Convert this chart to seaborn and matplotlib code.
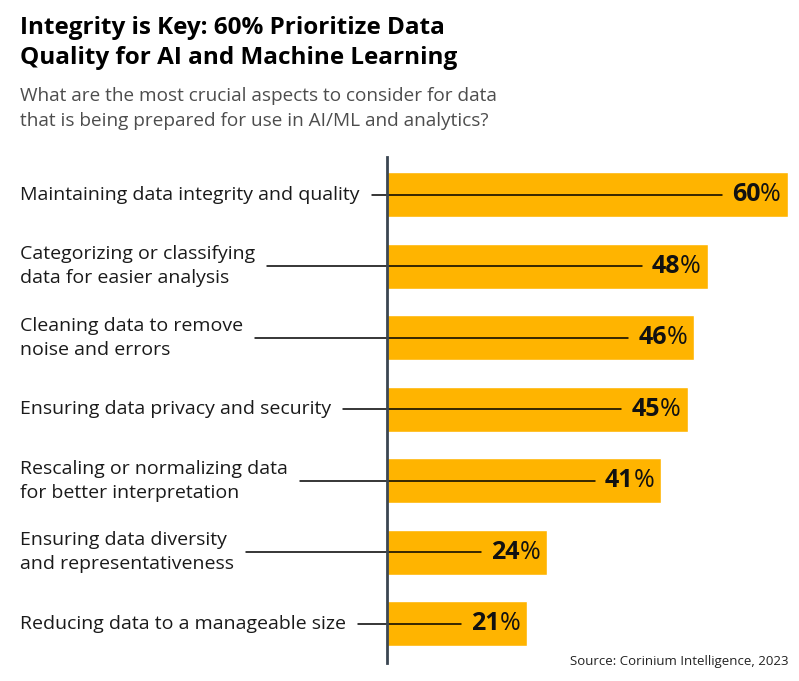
import pandas as pd
import matplotlib.pyplot as plt
import seaborn as sns
from matplotlib.transforms import blended_transform_factory

aspects = [
    "Maintaining data integrity and quality",
    "Categorizing or classifying\ndata for easier analysis",
    "Cleaning data to remove\nnoise and errors",
    "Ensuring data privacy and security",
    "Rescaling or normalizing data\nfor better interpretation",
    "Ensuring data diversity\nand representativeness",
    "Reducing data to a manageable size",
]
shares = [60, 48, 46, 45, 41, 24, 21]

df = pd.DataFrame({'aspect': aspects, 'share': shares})

sns.set_theme(style='white')
plt.rcParams['font.family'] = ['Open Sans', 'DejaVu Sans']

W, H = 799, 681
fig = plt.figure(figsize=(W / 100, H / 100), dpi=100)
ax = fig.add_axes([387 / W, 1 - 663 / H, 401 / W, 506 / H])

sns.barplot(data=df, y='aspect', x='share', color='#FFB400', saturation=1,
            width=0.63, ax=ax, zorder=1)
ax.set_xlim(0, 60)
ax.set_ylim(6.55, -0.53)
ax.set_xticks([])
ax.set_yticks([])
ax.set_xlabel('')
ax.set_ylabel('')
for s in ['top', 'right', 'bottom']:
    ax.spines[s].set_visible(False)
ax.spines['left'].set_color('#3B4652')
ax.spines['left'].set_linewidth(2)
ax.spines['left'].set_zorder(5)

trans = blended_transform_factory(fig.transFigure, ax.transData)
labels, nums = [], []
for i, (a, v) in enumerate(zip(aspects, shares)):
    t = ax.text(20 / W, i, a, transform=trans, ha='left', va='center',
                fontsize=14, color='#1a1a1a', linespacing=1.42)
    labels.append(t)
    pct = ax.annotate('%', xy=(v, i), xytext=(-7, 0), textcoords='offset pixels',
                      ha='right', va='center', fontsize=18, color='#111111')
    num = ax.annotate(str(v), xy=(0, 0), xycoords=pct, ha='right', va='bottom',
                      fontsize=18, fontweight='bold', color='#111111')
    nums.append(num)

# leader lines from label to value
fig.canvas.draw()
r = fig.canvas.get_renderer()
inv = ax.transData.inverted()
for i, (t, n) in enumerate(zip(labels, nums)):
    x0 = t.get_window_extent(r).x1 + 12
    x1 = n.get_window_extent(r).x0 - 10
    d0 = inv.transform((x0, 0))[0]
    d1 = inv.transform((x1, 0))[0]
    ax.plot([d0, d1], [i, i], color='black', lw=1.1, clip_on=False, zorder=3)

fig.text(20 / W, 1 - 16 / H,
         "Integrity is Key: 60% Prioritize Data\nQuality for AI and Machine Learning",
         fontsize=17.5, fontweight='bold', color='#000000', va='top', linespacing=1.33)
fig.text(20 / W, 1 - 87 / H,
         "What are the most crucial aspects to consider for data\n"
         "that is being prepared for use in AI/ML and analytics?",
         fontsize=13.7, color='#4d4d4d', va='top', linespacing=1.5)
fig.text(788 / W, 1 - 661 / H, "Source: Corinium Intelligence, 2023",
         fontsize=9.5, color='#222222', ha='right', va='center')

fig.savefig('out.png', dpi=100)
